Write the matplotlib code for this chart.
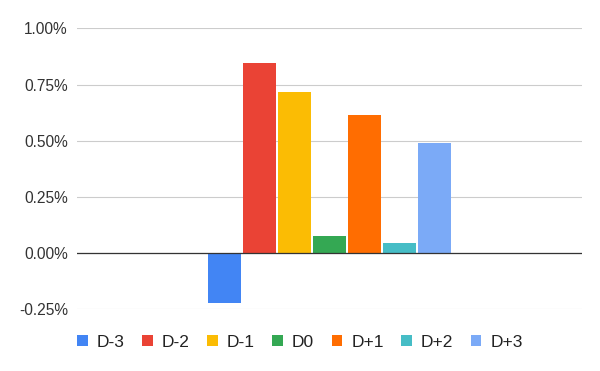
import numpy as np
import matplotlib
matplotlib.use("Agg")
import matplotlib.pyplot as plt
from matplotlib.ticker import FuncFormatter

# data (percent)
labels = ["D-3", "D-2", "D-1", "D0", "D+1", "D+2", "D+3"]
values = [-0.223, 0.845, 0.716, 0.077, 0.613, 0.046, 0.492]
colors = ["#4285F4", "#EA4335", "#FBBC04", "#34A853", "#FF6D01", "#46BDC6", "#7BAAF7"]
yticks = [-0.25, 0.0, 0.25, 0.50, 0.75, 1.00]

plt.rcParams["font.family"] = ["Liberation Sans", "DejaVu Sans"]

fig = plt.figure(figsize=(6.0, 3.71), dpi=100)
ax = fig.add_axes([0.128, 0.1663, 0.842, 0.7574])

n = len(labels)
slot = 0.0693
width = 0.0647
offsets = (np.arange(n) - (n - 1) / 2) * slot
for off, v, c, lab in zip(offsets, values, colors, labels):
    ax.bar(off, v, width=width, color=c, label=lab, zorder=3)

ax.set_xlim(-0.5, 0.5)
ax.set_ylim(-0.25, 1.0)
ax.set_yticks(yticks)
ax.yaxis.set_major_formatter(FuncFormatter(lambda y, _: f"{y:.2f}%"))
ax.set_xticks([])

ax.grid(True, axis="y", color="#cccccc", lw=0.8, zorder=0)
ax.axhline(0, color="#333333", lw=0.9, zorder=4)
for s in ax.spines.values():
    s.set_visible(False)
ax.tick_params(axis="y", length=0, pad=6.5, labelsize=11.2, labelcolor="#333333")

fig.legend(loc="center", bbox_to_anchor=(0.5, 0.0773), ncol=n, frameon=False,
           fontsize=12.5, handlelength=0.61, handleheight=0.61,
           handletextpad=0.53, columnspacing=1.0, labelcolor="#222222")

fig.savefig("out.png", dpi=100)
